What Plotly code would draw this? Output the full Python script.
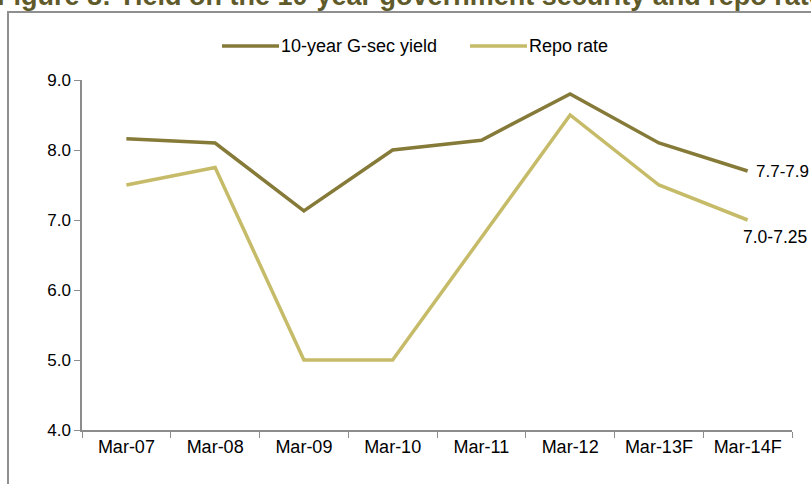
import plotly.graph_objects as go

# Fiscal-year end points (F = forecast)
periods = ["Mar-07", "Mar-08", "Mar-09", "Mar-10", "Mar-11", "Mar-12", "Mar-13F", "Mar-14F"]
gsec_yield = [8.16, 8.10, 7.13, 8.00, 8.14, 8.80, 8.10, 7.70]
repo_rate = [7.50, 7.75, 5.00, 5.00, 6.75, 8.50, 7.50, 7.00]
series_names = ["10-year G-sec yield", "Repo rate"]
end_labels = ["7.7-7.9", "7.0-7.25"]
y_ticks = [4.0, 5.0, 6.0, 7.0, 8.0, 9.0]
title_text = "Figure 8: Yield on the 10-year government security and repo rate"

GSEC_COLOR = "#857a38"
REPO_COLOR = "#c6bb68"
AXIS_COLOR = "#8c8c8c"
FONT = "Liberation Sans, Arial, sans-serif"

fig = go.Figure()
fig.add_trace(go.Scatter(x=periods, y=gsec_yield, mode="lines", name=series_names[0],
                         line=dict(color=GSEC_COLOR, width=3.5)))
fig.add_trace(go.Scatter(x=periods, y=repo_rate, mode="lines", name=series_names[1],
                         line=dict(color=REPO_COLOR, width=3.5)))

# plot area geometry in pixels (used to convert layout positions to paper coords)
W, H = 811, 484
L, R, T, B = 82, 19, 80, 54
pw, ph = W - L - R, H - T - B


def px(x):
    return (x - L) / pw


def py(y):
    return (H - B - y) / ph


annotations = []
shapes = []

# outer frame of the figure panel
shapes.append(dict(type="rect", xref="paper", yref="paper",
                   x0=px(8), x1=px(830), y0=py(12), y1=py(500),
                   line=dict(color="#8f8f8f", width=2), fillcolor="rgba(0,0,0,0)",
                   layer="below"))

# panel heading, sitting at the very top edge of the page
annotations.append(dict(text="<b>" + title_text + "</b>", xref="paper", yref="paper",
                        x=px(-5), y=py(-4.5), xanchor="left", yanchor="middle",
                        showarrow=False, font=dict(family=FONT, size=27, color="#5f5a2a")))

# legend drawn as line swatches plus labels
legend_items = [(series_names[0], GSEC_COLOR, 222), (series_names[1], REPO_COLOR, 470)]
for name, color, x0 in legend_items:
    shapes.append(dict(type="line", xref="paper", yref="paper",
                       x0=px(x0), x1=px(x0 + 57), y0=py(46), y1=py(46),
                       line=dict(color=color, width=3.5)))
    annotations.append(dict(text=name, xref="paper", yref="paper",
                            x=px(x0 + 57), y=py(46), xanchor="left", yanchor="middle",
                            showarrow=False, font=dict(family=FONT, size=18, color="#000")))

# range labels at the last forecast point
annotations.append(dict(text=end_labels[0], x=periods[-1], y=gsec_yield[-1], xref="x", yref="y",
                        xanchor="left", yanchor="middle", xshift=6, yshift=0, showarrow=False,
                        font=dict(family=FONT, size=17, color="#000")))
annotations.append(dict(text=end_labels[1], x=periods[-1], y=repo_rate[-1], xref="x", yref="y",
                        xanchor="left", yanchor="middle", xshift=-7, yshift=-17, showarrow=False,
                        font=dict(family=FONT, size=17.5, color="#000")))

fig.update_layout(
    width=W, height=H,
    margin=dict(l=L, r=R, t=T, b=B, pad=0),
    paper_bgcolor="white", plot_bgcolor="white",
    showlegend=False,
    font=dict(family=FONT, size=18, color="#000"),
    shapes=shapes, annotations=annotations,
)
fig.update_xaxes(type="category", tickson="boundaries", ticks="outside", ticklen=6,
                 tickcolor=AXIS_COLOR, showline=True, linecolor=AXIS_COLOR, linewidth=1.5,
                 showgrid=False, tickfont=dict(size=18), range=[-0.5, 7.5])
fig.update_yaxes(range=[4, 9], tickvals=y_ticks, tickformat=".1f", ticks="outside",
                 ticklen=6, tickcolor=AXIS_COLOR, showline=True, linecolor=AXIS_COLOR,
                 linewidth=1.5, showgrid=False, zeroline=False, tickfont=dict(size=17))

fig.write_html("out.html")
